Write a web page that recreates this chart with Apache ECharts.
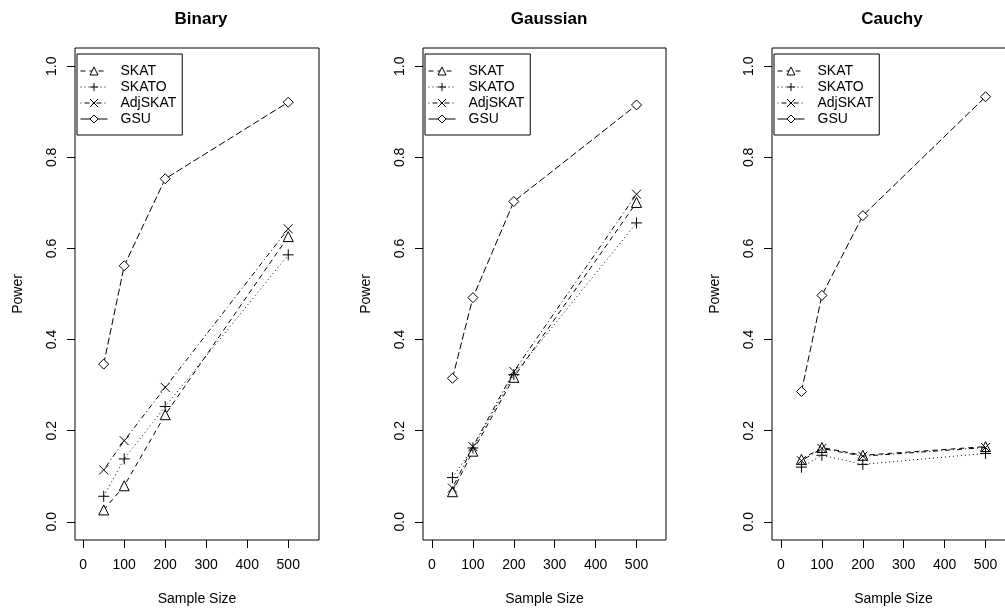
<!DOCTYPE html>
<html>
<head>
<meta charset="utf-8">
<script src="https://cdn.jsdelivr.net/npm/echarts@6/dist/echarts.min.js"></script>
<style>html,body{margin:0;padding:0;background:#fff;overflow:hidden;width:1005px;height:612px}#c{width:1030px;height:612px}</style>
</head>
<body>
<div id="c"></div>
<script>
// ---- data ----
var sampleSizes = [50, 100, 200, 500];
var xTicks = [0, 100, 200, 300, 400, 500];
var yTicks = [0, 0.2, 0.4, 0.6, 0.8, 1.0];
var panelTitles = ['Binary', 'Gaussian', 'Cauchy'];
var seriesNames = ['SKAT', 'SKATO', 'AdjSKAT', 'GSU'];

var binarySKAT    = [0.026, 0.079, 0.235, 0.626];
var binarySKATO   = [0.056, 0.138, 0.253, 0.586];
var binaryAdjSKAT = [0.114, 0.178, 0.295, 0.643];
var binaryGSU     = [0.346, 0.562, 0.753, 0.921];

var gaussSKAT    = [0.066, 0.155, 0.317, 0.701];
var gaussSKATO   = [0.097, 0.162, 0.323, 0.656];
var gaussAdjSKAT = [0.074, 0.165, 0.330, 0.719];
var gaussGSU     = [0.315, 0.492, 0.703, 0.915];

var cauchySKAT    = [0.137, 0.163, 0.146, 0.165];
var cauchySKATO   = [0.120, 0.146, 0.126, 0.150];
var cauchyAdjSKAT = [0.134, 0.161, 0.144, 0.163];
var cauchyGSU     = [0.286, 0.497, 0.672, 0.933];

var panelData = [
  [binarySKAT, binarySKATO, binaryAdjSKAT, binaryGSU],
  [gaussSKAT, gaussSKATO, gaussAdjSKAT, gaussGSU],
  [cauchySKAT, cauchySKATO, cauchyAdjSKAT, cauchyGSU]
];

// ---- styles ----
var FONT = "'Liberation Sans', Arial, sans-serif";
var gridBoxes = [
  {left: 75, width: 244, xmin: -20, xmax: 575},
  {left: 423, width: 243, xmin: -22, xmax: 572},
  {left: 772, width: 243, xmin: -22, xmax: 572}
];
var titleCenters = [196, 544, 887];
var symbols = [
  'triangle',
  'path://M5,0L5,10M0,5L10,5',
  'path://M0,0L10,10M10,0L0,10',
  'diamond'
];
var symbolSizes = [10, 11, 9, 10];
var dashes = [[5, 4], [1, 3], [1, 3, 5, 3], [7, 3]];

var grids = [], xAxes = [], yAxes = [], series = [], titles = [], legends = [];
gridBoxes.forEach(function (g, p) {
  grids.push({left: g.left, top: 48, width: g.width, height: 492, show: true,
    borderColor: '#000', borderWidth: 1, backgroundColor: 'transparent'});
  xAxes.push({
    type: 'value', gridIndex: p, min: g.xmin, max: g.xmax,
    splitLine: {show: false}, axisLine: {show: false, onZero: false},
    axisTick: {show: true, length: 8, lineStyle: {color: '#000'}, customValues: xTicks},
    axisLabel: {show: true, margin: 18, color: '#000', fontFamily: FONT, fontSize: 14,
      customValues: xTicks},
    name: 'Sample Size', nameLocation: 'middle', nameGap: 52,
    nameTextStyle: {color: '#000', fontFamily: FONT, fontSize: 14}
  });
  yAxes.push({
    type: 'value', gridIndex: p, min: -0.04, max: 1.04,
    splitLine: {show: false}, axisLine: {show: false, onZero: false},
    axisTick: {show: true, length: 8, lineStyle: {color: '#000'}, customValues: yTicks},
    axisLabel: {show: true, margin: 16, rotate: 90, color: '#000', fontFamily: FONT, fontSize: 14,
      customValues: yTicks, formatter: function (v) { return v.toFixed(1); }},
    name: 'Power', nameLocation: 'middle', nameGap: 50, nameRotate: 90,
    nameTextStyle: {color: '#000', fontFamily: FONT, fontSize: 14}
  });
  titles.push({
    text: panelTitles[p], left: titleCenters[p], top: 6, textAlign: 'center',
    textStyle: {fontFamily: FONT, fontSize: 17, fontWeight: 'bold', color: '#000'}
  });
  legends.push({
    orient: 'vertical', left: g.left + 2, top: 54,
    data: seriesNames.map(function (n, i) {
      var d = {name: n};
      if (i === 3) d.lineStyle = {type: 'solid', width: 1, color: '#000'};
      return d;
    }),
    borderColor: '#000', borderWidth: 1, padding: [9, 6, 8, 3],
    itemWidth: 27, itemHeight: 10, itemGap: 0,
    itemStyle: {borderWidth: 1, borderColor: '#000', color: '#fff'},
    lineStyle: {width: 1, color: '#000'},
    selectedMode: false,
    textStyle: {fontFamily: FONT, fontSize: 14, lineHeight: 16, color: '#000', padding: [0, 0, 0, 8]}
  });
  panelData[p].forEach(function (vals, s) {
    series.push({
      type: 'line', name: seriesNames[s], xAxisIndex: p, yAxisIndex: p,
      data: sampleSizes.map(function (x, i) { return [x, vals[i]]; }),
      symbol: symbols[s], symbolSize: symbolSizes[s], showAllSymbol: true,
      lineStyle: {color: '#000', width: 1, type: dashes[s]},
      itemStyle: {color: '#fff', borderColor: '#000', borderWidth: 1},
      emphasis: {disabled: true}, z: 2 + s
    });
  });
});

var chart = echarts.init(document.getElementById('c'), null, {renderer: 'canvas'});
chart.setOption({
  animation: false,
  backgroundColor: '#fff',
  title: titles,
  legend: legends,
  grid: grids,
  xAxis: xAxes,
  yAxis: yAxes,
  series: series
});
</script>
</body>
</html>
